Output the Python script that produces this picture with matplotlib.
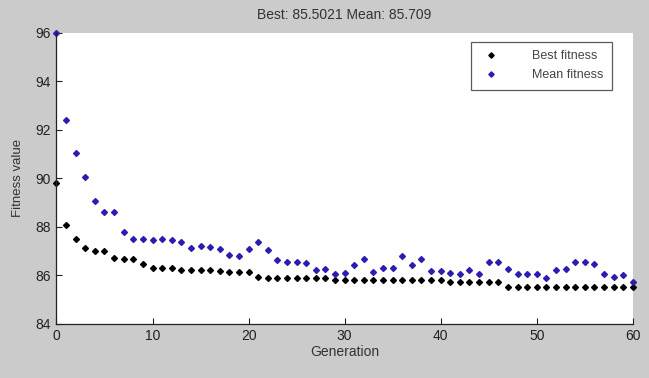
import matplotlib
matplotlib.use("Agg")
import matplotlib.pyplot as plt
import numpy as np

plt.rcParams['font.family'] = ['Liberation Sans', 'DejaVu Sans']

generations = list(range(0, 61))
best_fitness = [
    89.80, 88.07, 87.49, 87.13, 86.99, 86.99, 86.72, 86.66, 86.66, 86.44,
    86.29, 86.29, 86.29, 86.21, 86.21, 86.21, 86.21, 86.15, 86.12, 86.12,
    86.12, 85.94, 85.88, 85.88, 85.88, 85.88, 85.88, 85.88, 85.88, 85.80,
    85.80, 85.80, 85.80, 85.80, 85.80, 85.80, 85.80, 85.80, 85.80, 85.80,
    85.80, 85.70, 85.70, 85.70, 85.70, 85.70, 85.70, 85.52, 85.52, 85.52,
    85.52, 85.52, 85.52, 85.52, 85.52, 85.52, 85.52, 85.52, 85.52, 85.52,
    85.50,
]
mean_fitness = [
    95.98, 92.39, 91.03, 90.04, 89.06, 88.58, 88.58, 87.77, 87.49, 87.49,
    87.44, 87.49, 87.44, 87.35, 87.12, 87.18, 87.14, 87.07, 86.83, 86.77,
    87.09, 87.35, 87.04, 86.62, 86.52, 86.52, 86.48, 86.21, 86.25, 86.05,
    86.10, 86.41, 86.66, 86.11, 86.31, 86.31, 86.79, 86.41, 86.66, 86.17,
    86.17, 86.10, 86.05, 86.19, 86.05, 86.52, 86.52, 86.25, 86.05, 86.05,
    86.05, 85.89, 86.21, 86.25, 86.52, 86.52, 86.46, 86.04, 85.93, 86.00,
    85.71,
]
x_ticks = [0, 10, 20, 30, 40, 50, 60]
y_ticks = [84, 86, 88, 90, 92, 94, 96]
title_text = "Best: 85.5021 Mean: 85.709"

fig = plt.figure(figsize=(6.49, 3.78), dpi=100)
fig.patch.set_facecolor('#cbcbcb')
ax = fig.add_axes([0.087, 0.144, 0.888, 0.770])
ax.set_facecolor('white')

ax.plot(generations, best_fitness, linestyle='none', marker='D', markersize=3.0,
        color='black', label='Best fitness', clip_on=False)
ax.plot(generations, mean_fitness, linestyle='none', marker='D', markersize=3.0,
        color='#2a1db0', label='Mean fitness', clip_on=False)

ax.set_xlim(0, 60)
ax.set_ylim(84, 96)
ax.set_xticks(x_ticks)
ax.set_yticks(y_ticks)
ax.tick_params(direction='in', length=4, width=0.8, labelsize=10, colors='#222222',
               top=False, right=False, pad=4)
for side in ['top', 'right']:
    ax.spines[side].set_visible(False)
for side in ['left', 'bottom']:
    ax.spines[side].set_color('#222222')
    ax.spines[side].set_linewidth(0.9)

ax.set_xlabel('Generation', fontsize=10, color='#333333', labelpad=1)
ax.set_ylabel('Fitness value', fontsize=9.5, color='#333333', labelpad=8)
ax.set_title(title_text, fontsize=10, color='#333333', pad=10)

leg = ax.legend(loc='upper right', bbox_to_anchor=(0.975, 0.99), fontsize=9,
                frameon=True, fancybox=False, edgecolor='#333333',
                handletextpad=2.4, handlelength=1.8, borderpad=0.7,
                labelspacing=0.55, markerscale=0.9)
leg.get_frame().set_linewidth(0.9)
for t in leg.get_texts():
    t.set_color('#444444')

fig.savefig('out.png', dpi=100, facecolor=fig.get_facecolor())
